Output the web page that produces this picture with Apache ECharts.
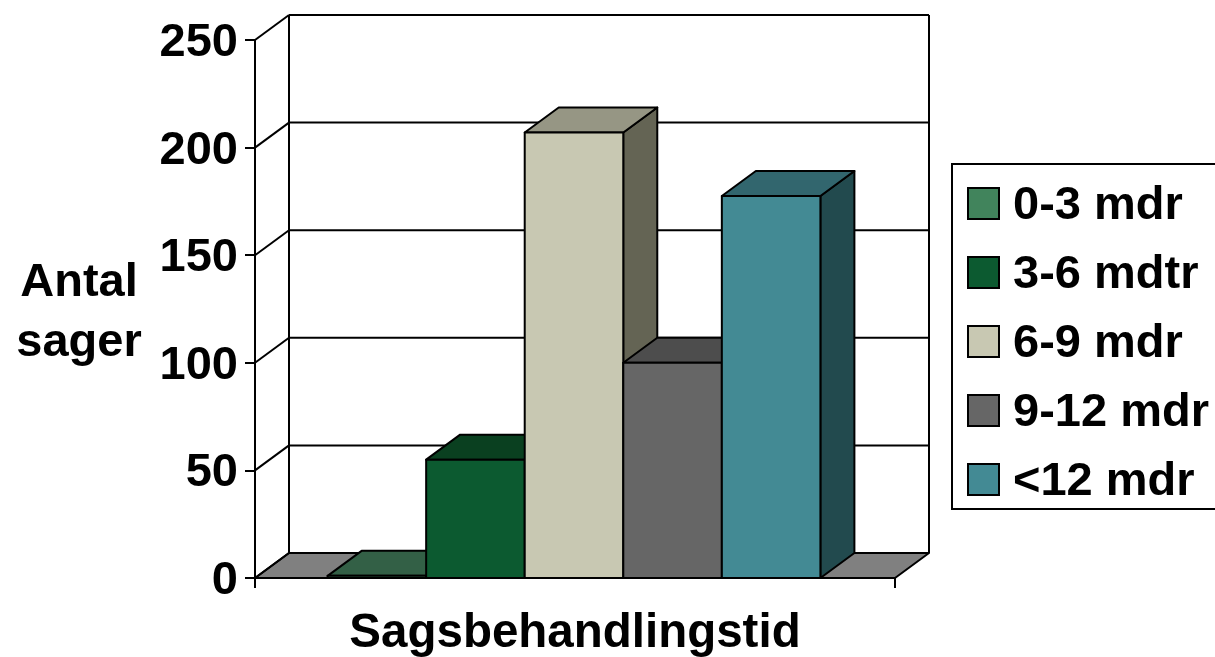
<!DOCTYPE html>
<html>
<head>
<meta charset="utf-8">
<title>Sagsbehandlingstid</title>
<script src="https://cdn.jsdelivr.net/npm/echarts@6/dist/echarts.min.js"></script>
<style>
    html, body {margin: 0; padding: 0; background: #fff; overflow: hidden;}
    #main {width: 1215px; height: 657px;}
</style>
</head>
<body>
<div id="main"></div>
<script>
const xCategories = ['']
const yTicks = [0, 50, 100, 150, 200, 250]
const seriesNames = ['0-3 mdr', '3-6 mdtr', '6-9 mdr', '9-12 mdr', '<12 mdr']
const seriesValues = [1, 55, 207, 100, 177.5]

const frontColors = ['#41845c', '#0c5a30', '#c8c8b2', '#666666', '#438a94']
const topColors = ['#336046', '#0a4020', '#969684', '#4d4d4d', '#32666e']
const sideColors = ['#264a34', '#083018', '#646454', '#3c3c3c', '#224a4e']

const FONT = '"Liberation Sans", Arial, sans-serif'
const FONT_SIZE = 47
// how far the back wall is pushed from the front plane
const DX = 34
const DY = 25
const BAR_SHARE = 0.154
const LINE = {stroke: '#000', lineWidth: 2}

// plain text ignores top padding when centred, so nudge it down with a rich style
const nudged = (lineHeight, shift, extra) => ({
    fontFamily: FONT,
    fontWeight: 'bold',
    fontSize: FONT_SIZE,
    color: '#000',
    lineHeight,
    height: lineHeight - shift * 2,
    verticalAlign: 'bottom',
    ...extra
})

const poly = (points, fill) => ({
    type: 'polygon',
    shape: {points},
    style: {fill, stroke: '#000', lineWidth: 2, lineJoin: 'round'}
})

const line = (x1, y1, x2, y2) => ({
    type: 'line',
    shape: {x1, y1, x2, y2},
    style: LINE
})

const renderWalls = (params, api) => {
    const half = api.size([1, 0])[0] / 2
    const base = api.coord([0, 0])
    const top = api.coord([0, yTicks[yTicks.length - 1]])
    const xl = base[0] - half
    const xr = base[0] + half
    const children = [
        poly([[xl, base[1]], [xl + DX, base[1] - DY], [xr + DX, base[1] - DY], [xr, base[1]]], '#808080'),
        line(xl + DX, base[1] - DY, xl + DX, top[1] - DY),
        line(xr + DX, base[1] - DY, xr + DX, top[1] - DY)
    ]
    yTicks.forEach(v => {
        const y = api.coord([0, v])[1]
        children.push(line(xl, y, xl + DX, y - DY))
        children.push(line(xl + DX, y - DY, xr + DX, y - DY))
    })
    return {type: 'group', children}
}

const renderBar = i => (params, api) => {
    const w = api.size([1, 0])[0] * BAR_SHARE
    const top = api.coord([0, api.value(1)])
    const base = api.coord([0, 0])
    const x0 = base[0] - 1 + (i - 2.5) * w
    const x1 = x0 + w
    return {
        type: 'group',
        children: [
            poly([[x1, base[1]], [x1 + DX, base[1] - DY], [x1 + DX, top[1] - DY], [x1, top[1]]], sideColors[i]),
            poly([[x0, top[1]], [x0 + DX, top[1] - DY], [x1 + DX, top[1] - DY], [x1, top[1]]], topColors[i]),
            poly([[x0, base[1]], [x0, top[1]], [x1, top[1]], [x1, base[1]]], frontColors[i])
        ]
    }
}

const chart = echarts.init(document.getElementById('main'), null, {renderer: 'canvas'})

chart.setOption({
    animation: false,
    textStyle: {fontFamily: FONT, fontWeight: 'bold', fontSize: FONT_SIZE, color: '#000'},
    grid: {left: 255, right: 320, top: 40, bottom: 79, outerBoundsMode: 'none'},
    legend: {
        orient: 'vertical',
        left: 952,
        top: 164,
        padding: [19, 40, 3, 15],
        itemGap: 22,
        itemWidth: 31,
        itemHeight: 31,
        backgroundColor: '#fff',
        borderColor: '#000',
        borderWidth: 2,
        icon: 'rect',
        selectedMode: false,
        data: seriesNames,
        formatter: '{a|{name}}',
        textStyle: {
            rich: {a: nudged(50, 3, {padding: [0, 0, 0, 9]})}
        }
    },
    xAxis: {
        type: 'category',
        data: xCategories,
        name: 'Sagsbehandlingstid',
        nameLocation: 'middle',
        nameGap: 32,
        nameTextStyle: {fontFamily: FONT, fontWeight: 'bold', fontSize: 47.5, color: '#000'},
        axisLine: {lineStyle: {color: '#000', width: 2}},
        axisTick: {show: true, length: 10, lineStyle: {color: '#000', width: 2}},
        axisLabel: {show: false},
        splitLine: {show: false}
    },
    yAxis: {
        type: 'value',
        min: 0,
        max: 250,
        interval: 50,
        name: '{a|Antal}\n{a|sager}',
        nameLocation: 'middle',
        nameRotate: 0,
        nameGap: 176,
        nameMoveOverlap: false,
        nameTextStyle: {
            align: 'center',
            verticalAlign: 'middle',
            rich: {a: nudged(60, 4)}
        },
        axisLine: {show: true, lineStyle: {color: '#000', width: 2}},
        axisTick: {show: true, length: 10, lineStyle: {color: '#000', width: 2}},
        axisLabel: {
            margin: 17,
            formatter: '{a|{value}}',
            rich: {a: nudged(54, 3)}
        },
        splitLine: {show: false}
    },
    series: [
        {
            type: 'custom',
            name: 'walls',
            silent: true,
            clip: false,
            z: 1,
            data: [[0, 0]],
            renderItem: renderWalls
        },
        ...seriesNames.map((name, i) => ({
            type: 'custom',
            name,
            clip: false,
            z: 2,
            itemStyle: {color: frontColors[i], borderColor: '#000', borderWidth: 2},
            data: [[0, seriesValues[i]]],
            renderItem: renderBar(i)
        }))
    ]
})
</script>
</body>
</html>
